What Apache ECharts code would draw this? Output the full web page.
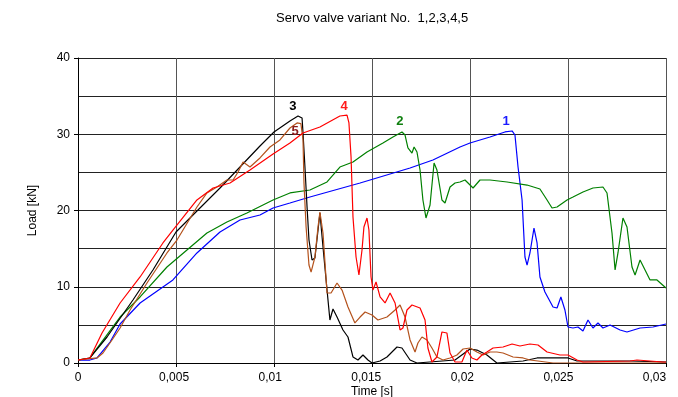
<!DOCTYPE html>
<html>
<head>
<meta charset="utf-8">
<script src="https://cdn.jsdelivr.net/npm/echarts@6/dist/echarts.min.js"></script>
<style>
  html, body { margin: 0; padding: 0; background: #fff; }
  #chart { width: 678px; height: 397px; }
</style>
</head>
<body>
<div id="chart"></div>
<script>
// Load curves [time s, load kN] for servo valve variants 1..5
const variant1 = [
  [0, 0.39], [0.00062, 0.39], [0.00099, 0.66], [0.00167, 2.75], [0.00219, 5.11], [0.00323, 7.87],
  [0.00494, 10.89], [0.00619, 14.43], [0.00739, 17.18], [0.00843, 18.75], [0.00947, 19.41],
  [0.01015, 20.33], [0.01103, 20.98], [0.01207, 21.77], [0.01468, 23.61], [0.01728, 25.57],
  [0.01847, 26.62], [0.01988, 28.33], [0.02040, 28.85], [0.02144, 29.64], [0.02222, 30.30],
  [0.02259, 30.43], [0.02274, 29.90], [0.02290, 25.70], [0.02311, 21.38], [0.02326, 13.90],
  [0.02337, 12.85], [0.02352, 14.43], [0.02373, 17.70], [0.02389, 15.74], [0.02404, 11.28],
  [0.02430, 9.31], [0.02472, 7.34], [0.02493, 7.21], [0.02513, 8.66], [0.02534, 6.95],
  [0.02550, 4.72], [0.02576, 4.59], [0.02602, 4.72], [0.02628, 4.20], [0.02654, 5.64],
  [0.02680, 4.59], [0.02706, 5.25], [0.02732, 4.59], [0.02769, 4.98], [0.02821, 4.33],
  [0.02857, 4.07], [0.02925, 4.59], [0.02992, 4.72], [0.03060, 5.11]
];
const variant2 = [
  [0, 0.39], [0.00062, 0.66], [0.00219, 6.03], [0.00323, 8.66], [0.00463, 12.59], [0.00567, 14.82],
  [0.00671, 17.05], [0.00775, 18.49], [0.00879, 19.67], [0.01015, 21.38], [0.01103, 22.30],
  [0.01207, 22.69], [0.01296, 23.74], [0.01363, 25.70], [0.01431, 26.36], [0.01504, 27.67],
  [0.01587, 28.85], [0.01639, 29.64], [0.01686, 30.30], [0.01702, 29.90], [0.01717, 28.20],
  [0.01738, 27.54], [0.01749, 28.33], [0.01764, 27.67], [0.01780, 25.31], [0.01795, 21.38],
  [0.01811, 19.02], [0.01832, 20.72], [0.01853, 26.23], [0.01868, 25.31], [0.01894, 21.38],
  [0.01910, 20.98], [0.01936, 23.08], [0.01962, 23.61], [0.01988, 23.74], [0.02014, 24.00],
  [0.02056, 22.95], [0.02092, 24.00], [0.02144, 24.00], [0.02233, 23.74], [0.02337, 23.34],
  [0.02404, 22.82], [0.02441, 21.38], [0.02467, 20.33], [0.02493, 20.46], [0.02545, 21.38],
  [0.02576, 21.77], [0.02628, 22.43], [0.02680, 22.95], [0.02732, 23.08], [0.02753, 22.30],
  [0.02779, 17.05], [0.02795, 12.20], [0.02810, 14.43], [0.02836, 19.02], [0.02857, 17.84],
  [0.02883, 12.59], [0.02899, 11.54], [0.02925, 13.51], [0.02951, 12.20], [0.02977, 10.89],
  [0.03013, 10.89], [0.03060, 9.84]
];
const variant3 = [
  [0, 0.39], [0.00062, 0.66], [0.00151, 3.41], [0.00286, 8.26], [0.00390, 12.20], [0.00510, 17.18],
  [0.00619, 19.93], [0.00739, 22.95], [0.00843, 25.70], [0.00947, 28.46], [0.01020, 30.30],
  [0.01103, 31.74], [0.01145, 32.39], [0.01155, 32.52], [0.01166, 32.13], [0.01171, 30.16],
  [0.01181, 25.70], [0.01192, 20.46], [0.01202, 16.13], [0.01218, 13.51], [0.01233, 13.77],
  [0.01259, 19.67], [0.01275, 15.21], [0.01296, 9.57], [0.01311, 5.64], [0.01327, 7.08],
  [0.01348, 6.03], [0.01379, 4.33], [0.01405, 3.41], [0.01431, 0.79], [0.01457, 0.39],
  [0.01483, 1.05], [0.01509, 0.39], [0.01530, 0], [0.01572, 0.26], [0.01608, 0.79],
  [0.01660, 2.10], [0.01686, 1.97], [0.01728, 0.39], [0.01764, 0], [0.01962, 0.39],
  [0.02040, 1.84], [0.02076, 1.70], [0.02128, 1.05], [0.02180, 0], [0.02316, 0.26],
  [0.02389, 0.66], [0.02550, 0.66], [0.02597, 0.26], [0.02873, 0.26], [0.03060, 0.13]
];
const variant4 = [
  [0, 0.39], [0.00062, 0.66], [0.00125, 3.93], [0.00219, 7.87], [0.00323, 11.28], [0.00442, 15.74],
  [0.00494, 17.44], [0.00619, 21.38], [0.00703, 22.95], [0.00791, 23.61], [0.00895, 25.31],
  [0.01015, 27.41], [0.01103, 28.85], [0.01171, 30.16], [0.01259, 30.95], [0.01363, 32.39],
  [0.01400, 32.52], [0.01410, 31.48], [0.01421, 27.02], [0.01431, 19.15], [0.01447, 13.90],
  [0.01462, 11.54], [0.01478, 14.82], [0.01488, 17.84], [0.01504, 19.02], [0.01514, 17.44],
  [0.01525, 11.28], [0.01535, 9.57], [0.01551, 10.62], [0.01572, 8.66], [0.01598, 7.87],
  [0.01624, 9.18], [0.01650, 7.87], [0.01676, 4.33], [0.01691, 4.59], [0.01712, 6.95],
  [0.01738, 7.61], [0.01780, 7.21], [0.01806, 5.64], [0.01821, 1.97], [0.01842, 0.13],
  [0.01868, 0.79], [0.01894, 4.07], [0.01920, 3.93], [0.01936, 1.31], [0.01962, 0.13],
  [0.01998, 0.13], [0.02024, 1.70], [0.02050, 0.66], [0.02076, 0.39], [0.02102, 1.05],
  [0.02128, 1.44], [0.02160, 1.97], [0.02212, 2.10], [0.02259, 2.49], [0.02300, 2.23],
  [0.02352, 2.49], [0.02394, 2.36], [0.02441, 1.44], [0.02508, 1.05], [0.02550, 1.05],
  [0.02597, 0.39], [0.02628, 0.13], [0.02873, 0.26], [0.02909, 0.39], [0.02977, 0.26],
  [0.03044, 0.13], [0.03060, 0.13]
];
const variant5 = [
  [0, 0.39], [0.00099, 0.66], [0.00130, 1.31], [0.00177, 3.02], [0.00219, 4.59], [0.00271, 6.95],
  [0.00359, 10.49], [0.00463, 14.43], [0.00515, 16.13], [0.00619, 20.46], [0.00671, 22.30],
  [0.00723, 23.08], [0.00775, 24.00], [0.00807, 24.00], [0.00833, 25.05], [0.00859, 26.36],
  [0.00895, 25.70], [0.00947, 26.89], [0.00999, 28.33], [0.01051, 29.25], [0.01103, 30.82],
  [0.01140, 31.48], [0.01160, 31.40], [0.01171, 29.25], [0.01176, 23.61], [0.01187, 17.84],
  [0.01202, 12.85], [0.01213, 11.93], [0.01233, 13.90], [0.01249, 17.84], [0.01259, 19.80],
  [0.01275, 17.05], [0.01296, 9.18], [0.01317, 9.18], [0.01348, 10.49], [0.01374, 9.57],
  [0.01405, 7.34], [0.01441, 5.25], [0.01468, 6.03], [0.01494, 6.69], [0.01530, 6.30],
  [0.01561, 5.64], [0.01608, 6.03], [0.01650, 6.95], [0.01676, 7.61], [0.01702, 6.03],
  [0.01728, 3.02], [0.01754, 1.44], [0.01769, 2.62], [0.01790, 3.41], [0.01816, 3.02],
  [0.01842, 1.97], [0.01868, 0.79], [0.01899, 0.39], [0.01936, 0.66], [0.01972, 1.05],
  [0.02004, 1.84], [0.02040, 1.97], [0.02076, 1.44], [0.02108, 1.05], [0.02144, 1.44],
  [0.02180, 1.44], [0.02212, 1.31], [0.02264, 0.79], [0.02316, 0.66], [0.02352, 0.39],
  [0.02394, 0.26], [0.02472, 0], [0.03060, 0]
];

const variantNames = ['1', '2', '3', '4', '5'];
const timeMax = 0.0306;
const loadMax = 40;

const FONT = 'Liberation Sans, Arial, sans-serif';

function curve(name, data, color, labelColor, offset) {
  return {
    name: name,
    type: 'line',
    data: data,
    xAxisIndex: 0,
    yAxisIndex: 0,
    showSymbol: false,
    lineStyle: { color: color, width: 1.2 },
    itemStyle: { color: color },
    markPoint: {
      symbol: 'circle',
      symbolSize: 0,
      silent: true,
      data: [{ type: 'max' }],
      label: {
        show: true,
        position: 'inside',
        offset: offset,
        formatter: name,
        color: labelColor,
        fontFamily: FONT,
        fontWeight: 'bold',
        fontSize: 13
      }
    }
  };
}

const chart = echarts.init(document.getElementById('chart'), null, { renderer: 'canvas' });
chart.setOption({
  animation: false,
  backgroundColor: '#ffffff',
  graphic: [{
    type: 'text',
    left: 276,
    top: 12,
    style: {
      text: 'Servo valve variant No.  1,2,3,4,5',
      fill: '#000',
      font: '13px ' + FONT
    }
  }],
  grid: { left: 78, right: 12, top: 58, bottom: 34, containLabel: false, outerBoundsMode: 'none' },
  xAxis: [{
    type: 'value',
    min: 0,
    max: timeMax,
    interval: 0.0051,
    name: 'Time [s]',
    nameLocation: 'middle',
    nameGap: 23,
    nameTextStyle: { color: '#000', fontFamily: FONT, fontSize: 12 },
    axisLine: { show: true, lineStyle: { color: '#000', width: 1 } },
    axisTick: { show: true, length: 4, lineStyle: { color: '#000' } },
    axisLabel: { show: false },
    splitLine: { show: true, lineStyle: { color: '#555', width: 1 } }
  }, {
    type: 'value',
    position: 'bottom',
    min: 0,
    max: timeMax,
    interval: 0.005,
    axisLine: { show: false },
    axisTick: { show: false },
    splitLine: { show: false },
    axisLabel: {
      show: true,
      margin: 9,
      showMaxLabel: false,
      color: '#000',
      fontFamily: FONT,
      fontSize: 12,
      formatter: function (v) {
        const r = Math.round(v * 1000) / 1000;
        if (Math.abs(r / 0.005 - Math.round(r / 0.005)) > 1e-6) return '';
        return String(r).replace('.', ',');
      }
    }
  }],
  yAxis: [{
    type: 'value',
    min: 0,
    max: loadMax,
    interval: 5,
    name: 'Load [kN]',
    nameLocation: 'middle',
    nameGap: 39,
    nameTextStyle: { color: '#000', fontFamily: FONT, fontSize: 12 },
    axisLine: { show: true, lineStyle: { color: '#000', width: 1 } },
    axisTick: { show: false },
    axisLabel: { show: false },
    splitLine: { show: true, lineStyle: { color: '#222', width: 1 } }
  }, {
    type: 'value',
    position: 'left',
    min: 0,
    max: loadMax,
    interval: 10,
    axisLine: { show: false },
    axisTick: { show: true, length: 4, lineStyle: { color: '#000' } },
    splitLine: { show: false },
    axisLabel: { show: true, margin: 8, color: '#000', fontFamily: FONT, fontSize: 12 }
  }],
  series: [
    curve(variantNames[0], variant1, '#0000ff', '#1a1aff', [-6, -10]),
    curve(variantNames[1], variant2, '#008000', '#108010', [-2, -11]),
    curve(variantNames[2], variant3, '#000000', '#000000', [-7, -9]),
    curve(variantNames[4], variant5, '#b4521c', '#8b1a1a', [-2, 8]),
    curve(variantNames[3], variant4, '#ff0000', '#ff1a1a', [-3, -9])
  ]
});
</script>
</body>
</html>
